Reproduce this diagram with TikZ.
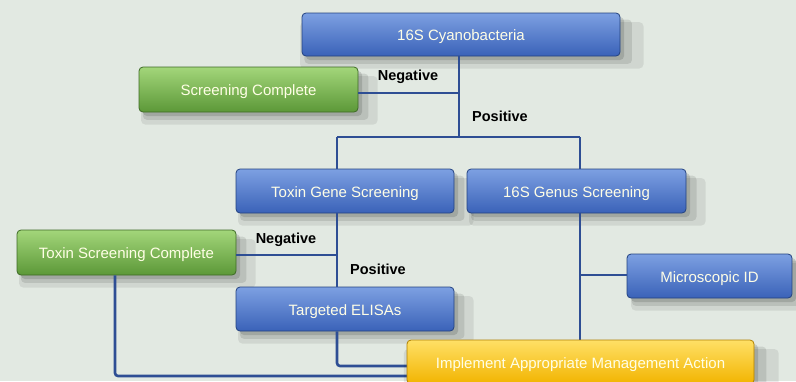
\documentclass[tikz,border=0pt]{standalone}
\usepackage{fontspec}
\setmainfont{Liberation Sans}
\usetikzlibrary{shadows,calc}
\definecolor{bgc}{HTML}{E2E9E2}
\definecolor{bluetop}{HTML}{7DA0E2}
\definecolor{bluebot}{HTML}{3A62B8}
\definecolor{blueedge}{HTML}{23427F}
\definecolor{greentop}{HTML}{A3D67A}
\definecolor{greenbot}{HTML}{5C9838}
\definecolor{greenedge}{HTML}{3E6A26}
\definecolor{yeltop}{HTML}{FFE066}
\definecolor{yelbot}{HTML}{F2B400}
\definecolor{yeledge}{HTML}{B08000}
\definecolor{linec}{HTML}{2E4E94}
\tikzset{
  box/.style={rectangle, rounded corners=4pt, line width=0.8pt,
    text=white!90!yellow, font=\fontsize{15}{17}\selectfont, inner sep=0pt,
    text height=12pt, text depth=0pt,
    drop shadow={shadow xshift=10pt, shadow yshift=-10pt, opacity=0.08, fill=black, shadow scale=1.08},
    drop shadow={shadow xshift=7pt, shadow yshift=-7pt, opacity=0.10, fill=black, shadow scale=1.03},
    drop shadow={shadow xshift=4pt, shadow yshift=-4pt, opacity=0.13, fill=black}},
  bluebox/.style={box, draw=blueedge, top color=bluetop, bottom color=bluebot},
  greenbox/.style={box, draw=greenedge, top color=greentop, bottom color=greenbot},
  yelbox/.style={box, draw=yeledge, top color=yeltop, bottom color=yelbot},
  conn/.style={draw=linec, line width=2.6pt},
  lab/.style={font=\bfseries\fontsize{14.5}{16}\selectfont, text=black, inner sep=0pt}
}
\begin{document}
\begin{tikzpicture}[x=1pt,y=-1pt]
\useasboundingbox (0,0) rectangle (796,381);
\fill[bgc] (0,0) rectangle (796,381);
\coordinate (j1) at (459,137);
\coordinate (jn1) at (459,93);
\coordinate (bl) at (337,137);
\coordinate (br) at (580,137);
\coordinate (jn2) at (337,255);
\coordinate (jm) at (580,275);
\coordinate (ce) at (337,366);
\coordinate (ct) at (115,376);

\node[bluebox, minimum width=318pt, minimum height=43pt] (top) at (461,34.5) {16S Cyanobacteria};
\node[greenbox, minimum width=219pt, minimum height=45pt] (sc) at (248.5,89.5) {Screening Complete};
\node[bluebox, minimum width=218pt, minimum height=44pt] (tgs) at (345,191) {Toxin Gene Screening};
\node[bluebox, minimum width=219pt, minimum height=44pt] (gen) at (576.5,191) {16S Genus Screening};
\node[greenbox, minimum width=219pt, minimum height=45pt] (tsc) at (126.5,252.5) {Toxin Screening Complete};
\node[bluebox, minimum width=218pt, minimum height=44pt] (eli) at (345,309) {Targeted ELISAs};
\node[bluebox, minimum width=165pt, minimum height=44pt] (mic) at (709.5,276) {Microscopic ID};

\draw[conn] (top.south -| j1) -- (j1);
\draw[conn] (bl) -- (br);
\draw[conn] (bl) -- (tgs.north -| bl);
\draw[conn] (br) -- (gen.north -| br);
\draw[conn] (sc.east |- jn1) -- (jn1);
\draw[conn] (tgs.south -| bl) -- (eli.north -| bl);
\draw[conn] (tsc.east |- jn2) -- (jn2);
\draw[conn] (gen.south -| br) -- (580,340);
\draw[conn] (jm) -- (mic.west |- jm);
\draw[conn, rounded corners=3pt] (eli.south -| ce) -- (ce) -- (407,366);
\draw[conn, rounded corners=3pt] (tsc.south -| ct) -- (ct) -- (407,376);

\node[yelbox, minimum width=347pt, minimum height=44pt] (imp) at (580.5,362) {Implement Appropriate Management Action};

\node[lab] (n1) at (408,77) {Negative};
\node[lab] (p1) at (500,116) {Positive};
\node[lab] (n2) at (286,240) {Negative};
\node[lab] (p2) at (378,269) {Positive};
\end{tikzpicture}
\end{document}
